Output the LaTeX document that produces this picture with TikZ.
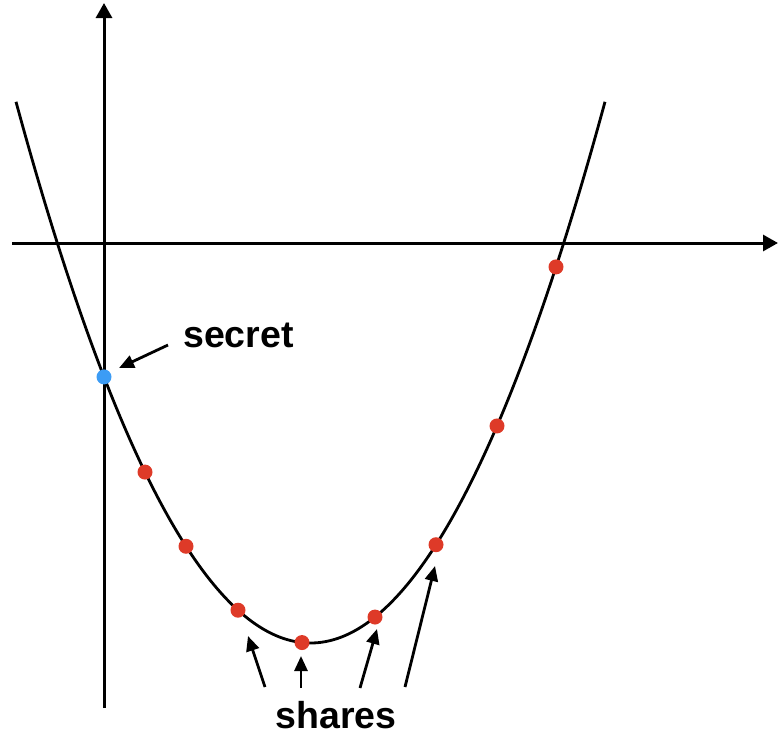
\documentclass[tikz,border=0pt]{standalone}
\usepackage{fontspec}
\setmainfont{Liberation Sans}
\usetikzlibrary{arrows.meta}
\definecolor{sharered}{RGB}{222,58,40}
\definecolor{secretblue}{RGB}{60,156,245}
\begin{document}
\begin{tikzpicture}[x=1pt,y=-1pt,
  axis/.style={line width=3pt,-{Triangle[length=15pt,width=16pt]}},
  curve/.style={line width=2.8pt},
  pointer/.style={line width=2.8pt,-{Triangle[length=15pt,width=13pt]}},
  sharedot/.style={circle,fill=sharered,inner sep=0pt,minimum size=15pt},
  secretdot/.style={circle,fill=secretblue,inner sep=0pt,minimum size=15pt},
  lbl/.style={font=\fontsize{37.5}{40}\selectfont\bfseries,inner sep=0pt,anchor=base}]
\useasboundingbox (0,0) rectangle (779,740);
% axes
\coordinate (yb) at (104,708);
\coordinate (yt) at (104,3);
\coordinate (xl) at (12,243);
\coordinate (xr) at (778,243);
\draw[axis] (xl) -- (xr);
\draw[axis] (yb) -- (yt);
% parabola
\draw[curve] plot[domain=16:605,samples=120,smooth] (\x,{643-(0.079*(\x-310.5))^2});
% points
\node[secretdot] (sec) at (104,{643-(0.079*(104-310.5))^2}) {};
\foreach \px/\nm in {145/d1,186/d2,238/d3,302/d4,375/d5,436/d6,497/d7,556/d8}{
  \node[sharedot] (\nm) at (\px,{643-(0.079*(\px-310.5))^2}) {};
}
% labels
\node[lbl] (secretlbl) at (238.5,347) {secret};
\node[lbl] (shareslbl) at (336,728) {shares};
% pointer arrows
\coordinate (ps) at (168,345);
\coordinate (pt) at (119,368);
\draw[pointer] (ps) -- (pt);
\coordinate (a1s) at (265,687); \coordinate (a1t) at (248,636);
\coordinate (a2s) at (301,688); \coordinate (a2t) at (301,656);
\coordinate (a3s) at (360,688); \coordinate (a3t) at (377,629);
\coordinate (a4s) at (405,687); \coordinate (a4t) at (435,566);
\draw[pointer] (a1s) -- (a1t);
\draw[pointer] (a2s) -- (a2t);
\draw[pointer] (a3s) -- (a3t);
\draw[pointer] (a4s) -- (a4t);
\end{tikzpicture}
\end{document}
